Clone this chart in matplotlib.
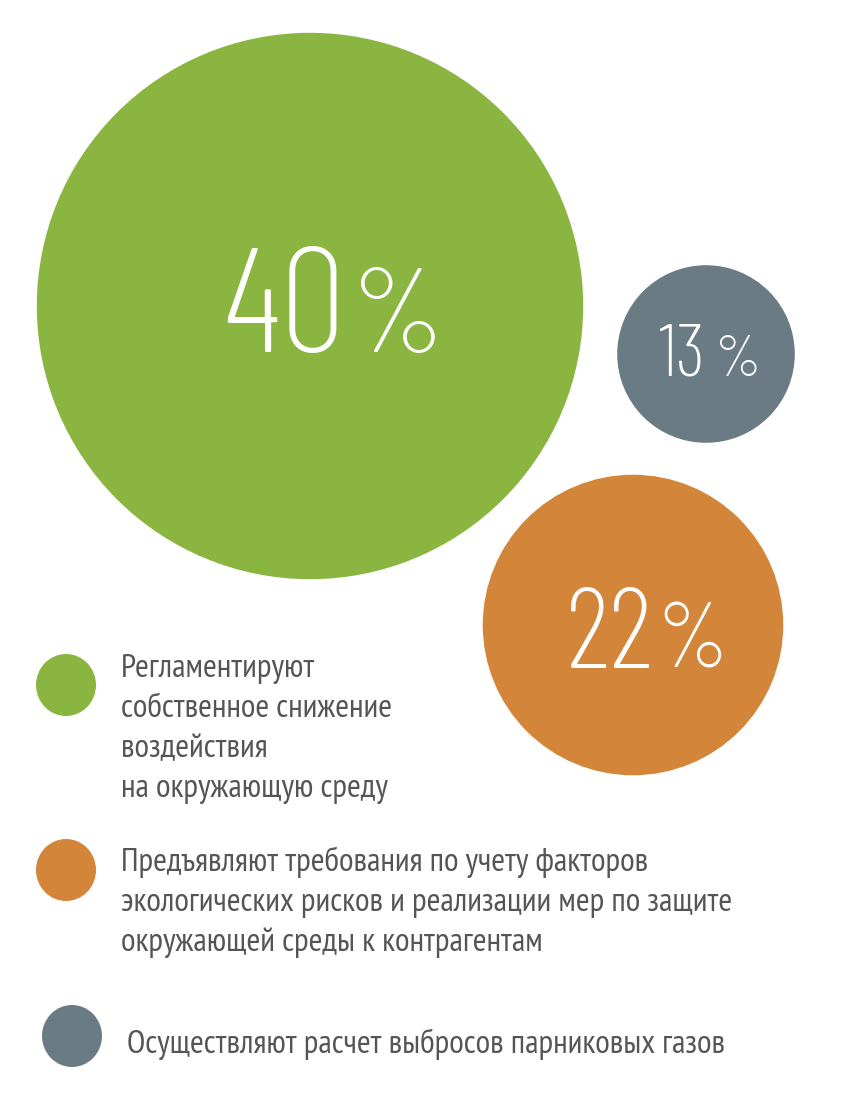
import matplotlib
matplotlib.use("Agg")
import matplotlib.pyplot as plt
from matplotlib.patches import Circle, Ellipse

# data (legend order)
shares = [40, 22, 13]
colors = ["#8AB540", "#D3863A", "#6B7B83"]
legend_labels = [
    ["Регламентируют", "собственное снижение", "воздействия", "на окружающую среду"],
    ["Предъявляют требования по учету факторов",
     "экологических рисков и реализации мер по защите",
     "окружающей среды к контрагентам"],
    ["Осуществляют расчет выбросов парниковых газов"],
]

# layout (pixels, origin top-left)
W, H = 865, 1117
px_per_pct = 6.83
centers = [(310, 306), (633, 625), (706, 354)]
num_x = [223, 566, 658]
num_base = [352, 668, 376]
num_size = [107, 82, 53]
pct_gap = [5, 3, 10]
legend_dots = [(66, 685), (66, 870), (72, 1036)]
legend_x = [121, 121, 127]
legend_base = [677, 871, 1053]
line_step = 40

num_font = dict(family=["Barlow Condensed", "DejaVu Sans"], weight=275, color="white")
txt_font = dict(family=["PT Sans Narrow", "DejaVu Sans"], weight=400, color="#555555")

fig = plt.figure(figsize=(W / 100, H / 100), dpi=100)
ax = fig.add_axes([0, 0, 1, 1])
ax.set_xlim(0, W)
ax.set_ylim(H, 0)
ax.set_aspect("equal")
ax.axis("off")

fig.canvas.draw()
renderer = fig.canvas.get_renderer()

for i, v in enumerate(shares):
    ax.add_patch(Circle(centers[i], v * px_per_pct, color=colors[i], lw=0))
    t = ax.text(num_x[i], num_base[i], str(v), fontsize=num_size[i],
                ha="left", va="baseline", **num_font)
    bb = t.get_window_extent(renderer)
    right = ax.transData.inverted().transform((bb.x1, 0))[0]
    ax.text(right + pct_gap[i], num_base[i], "%", fontsize=num_size[i] * 0.8,
            ha="left", va="baseline", **num_font)

for i, lines in enumerate(legend_labels):
    ax.add_patch(Ellipse(legend_dots[i], 60, 62, color=colors[i], lw=0))
    for j, line in enumerate(lines):
        ax.text(legend_x[i], legend_base[i] + j * line_step, line, fontsize=24,
                ha="left", va="baseline", **txt_font)

fig.savefig("out.png", dpi=100)
